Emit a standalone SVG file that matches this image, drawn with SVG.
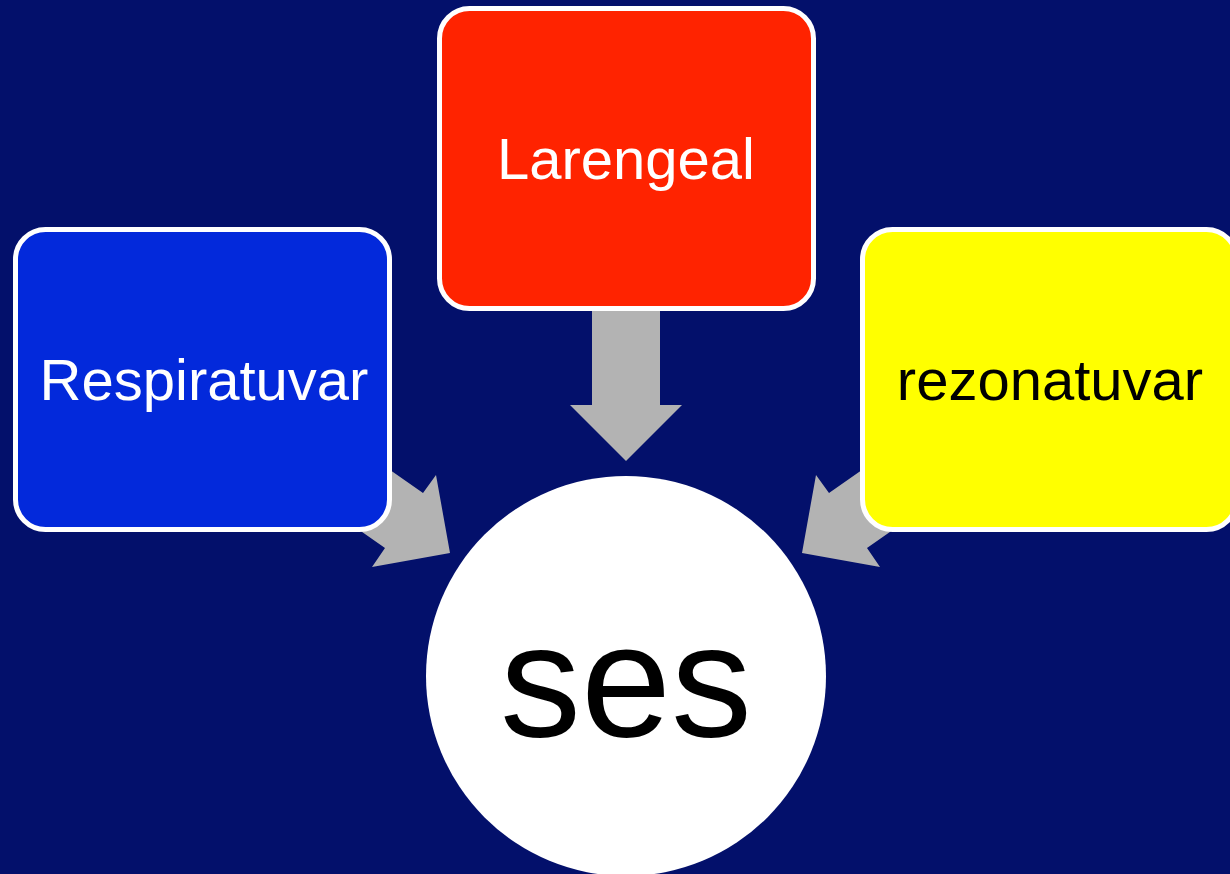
<svg xmlns="http://www.w3.org/2000/svg" width="1230" height="874" viewBox="0 0 1230 874">
<style>
.box{stroke:#FFFFFF;stroke-width:5}
.arrow{fill:#B3B3B3}
.lbl{font-family:"Liberation Sans",Arial,sans-serif;font-size:58px;text-anchor:middle}
</style>
<rect width="1230" height="874" fill="#03106B"/>
<g id="connectors">
<polygon class="arrow" points="300,407 423,493 436,475 450,553 372,567 385,548 262,462"/>
<polygon class="arrow" points="952,407 829,493 816,475 802,553 880,567 867,548 990,462"/>
<polygon class="arrow" points="592,300 660,300 660,405 682,405 626,461 570,405 592,405"/>
</g>
<g id="node-respiratuvar">
<rect class="box" x="15.5" y="229.5" width="374" height="300" rx="30" fill="#0329DB"/>
<text class="lbl" x="204" y="400" fill="#FFFFFF">Respiratuvar</text>
</g>
<g id="node-larengeal">
<rect class="box" x="439.5" y="8.5" width="374" height="300" rx="30" fill="#FF2300"/>
<text class="lbl" x="626" y="179" fill="#FFFFFF">Larengeal</text>
</g>
<g id="node-rezonatuvar">
<rect class="box" x="862.5" y="229.5" width="374" height="300" rx="30" fill="#FFFF00"/>
<text class="lbl" x="1050" y="400" fill="#000000">rezonatuvar</text>
</g>
<g id="node-ses">
<circle cx="626" cy="676" r="200" fill="#FFFFFF"/>
<text x="626" y="736" font-family="'Liberation Sans',Arial,sans-serif" font-size="162" text-anchor="middle" fill="#000000">ses</text>
</g>
</svg>
